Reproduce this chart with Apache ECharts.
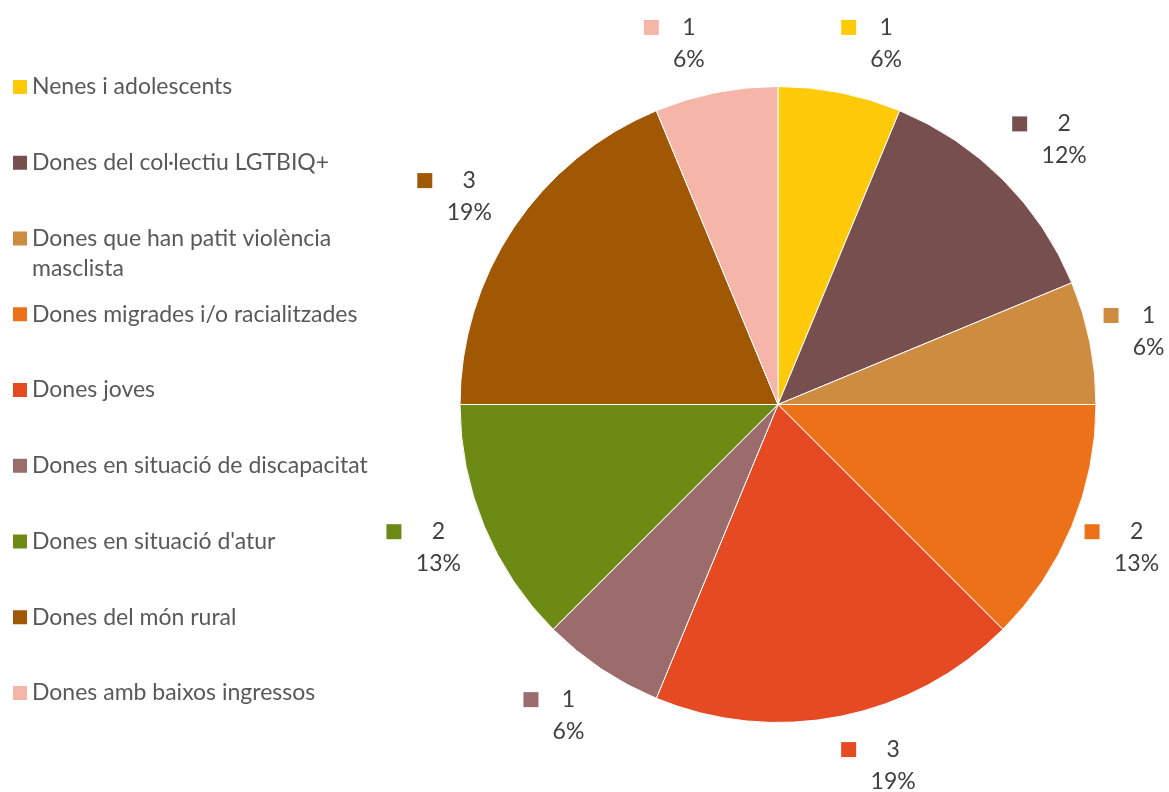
<!DOCTYPE html>
<html>
<head>
<meta charset="utf-8">
<script src="https://cdn.jsdelivr.net/npm/echarts@6/dist/echarts.min.js"></script>
<style>
  html, body { margin: 0; padding: 0; background: #fff; }
  #chart { width: 1169px; height: 792px; }
</style>
</head>
<body>
<div id="chart"></div>
<script>
// dades del gràfic
const categories = [
  'Nenes i adolescents',
  'Dones del col·lectiu LGTBIQ+',
  'Dones que han patit violència masclista',
  'Dones migrades i/o racialitzades',
  'Dones joves',
  'Dones en situació de discapacitat',
  "Dones en situació d'atur",
  'Dones del món rural',
  'Dones amb baixos ingressos'
];
const values = [1, 2, 1, 2, 3, 1, 2, 3, 1];
const percentLabels = ['6%', '12%', '6%', '13%', '19%', '6%', '13%', '19%', '6%'];
const colors = ['#FFCA0A', '#764F4E', '#CE8C40', '#EC7118', '#E54A23', '#9C6B6B', '#6C8A14', '#A05805', '#F5B5A8'];

// la llegenda va en tres blocs: l'element de dues línies no ha d'empènyer els següents
const legendTop = categories.slice(0, 2);
const legendWrapped = categories.slice(2, 3);
const legendRest = categories.slice(3);

const FONT = 'Lato';
const LABEL_SIZE = 23;
const LABEL_LINE = 32;
const LABEL_GAP = 16;
const LABEL_VPAD = 12;
const LEG_LINE = 30;
const LEG_STEP = 75.75;
const LEG_TOP = 72;

const chart = echarts.init(document.getElementById('chart'));

// amplada de la columna de text de cada etiqueta (valor sobre percentatge, centrats)
const ctx = document.createElement('canvas').getContext('2d');
ctx.font = LABEL_SIZE + 'px ' + FONT;
const rich = { g: { width: 14 }, s: { width: 29 }, e: { width: 8 } };
colors.forEach((c, i) => {
  const w = Math.ceil(Math.max(ctx.measureText(String(values[i])).width, ctx.measureText(percentLabels[i]).width));
  const txt = { width: w, align: 'center', fontSize: LABEL_SIZE, lineHeight: LABEL_LINE, color: '#404040', fontFamily: FONT };
  rich['m' + i] = { width: 15, height: 15, backgroundColor: c, lineHeight: LABEL_LINE };
  rich['v' + i] = txt;
  rich['p' + i] = txt;
});

const seriesData = categories.map((name, i) => ({ name: name, value: values[i] }));

const legendBase = {
  orient: 'vertical',
  left: 13,
  padding: 0,
  icon: 'rect',
  itemWidth: 14,
  itemHeight: 14,
  itemGap: LEG_STEP - LEG_LINE,
  itemStyle: { borderWidth: 0 },
  textStyle: {
    fontFamily: FONT,
    fontSize: 23,
    color: '#595959',
    lineHeight: LEG_LINE,
    width: 380,
    overflow: 'break'
  }
};

chart.setOption({
  animation: false,
  color: colors,
  textStyle: { fontFamily: FONT },
  legend: [
    Object.assign({}, legendBase, { top: LEG_TOP, data: legendTop }),
    Object.assign({}, legendBase, {
      top: LEG_TOP + 2 * LEG_STEP,
      // quadrat alineat amb la primera línia del text
      icon: 'path://M0,0L14,0L14,14L0,14Z M0,44L14,44',
      itemHeight: 44,
      data: legendWrapped
    }),
    Object.assign({}, legendBase, { top: LEG_TOP + 3 * LEG_STEP, data: legendRest })
  ],
  series: [{
    type: 'pie',
    center: [778, 404.5],
    radius: 318,
    startAngle: 90,
    clockwise: true,
    avoidLabelOverlap: false,
    itemStyle: { borderColor: '#fff', borderWidth: 1 },
    label: {
      position: 'outside',
      formatter: p => {
        const i = p.dataIndex;
        return '{m' + i + '|}{g|}{v' + i + '|' + p.value + '}{e|}\n{s|}{p' + i + '|' + percentLabels[i] + '}{e|}';
      },
      rich: rich
    },
    labelLine: { show: true, length: 10, length2: 0, lineStyle: { opacity: 0 } },
    // etiqueta fora del sector: vora lateral a l'àncora, desplaçament vertical segons l'angle
    labelLayout: function (params) {
      const pts = params.labelLinePoints;
      if (!pts) return {};
      const ux = pts[1][0] - pts[0][0];
      const uy = pts[1][1] - pts[0][1];
      const len = Math.hypot(ux, uy) || 1;
      const nx = ux / len, ny = uy / len;
      const w = params.labelRect.width, h = params.labelRect.height + LABEL_VPAD;
      const ax = pts[0][0] + nx * LABEL_GAP;
      const ay = pts[0][1] + ny * LABEL_GAP;
      return {
        x: ax + Math.sign(nx) * w / 2,
        y: ay + Math.sign(ny) * Math.min(1, 1.2 * Math.abs(ny)) * h / 2,
        align: 'center',
        verticalAlign: 'middle'
      };
    },
    emphasis: { scale: false },
    data: seriesData
  }]
});
</script>
</body>
</html>
